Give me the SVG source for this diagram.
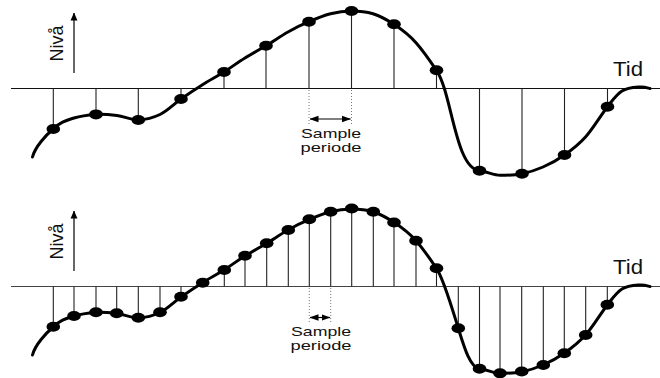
<svg xmlns="http://www.w3.org/2000/svg" width="660" height="378" viewBox="0 0 660 378">
<style>
.axis{stroke:#111;stroke-width:1.1;fill:none}
.stem{stroke:#222;stroke-width:1.1}
.curve{stroke:#000;stroke-width:3;fill:none;stroke-linecap:round}
.dot{fill:#000}
.dotted{stroke:#777;stroke-width:1;stroke-dasharray:1 2;fill:none}
.arr{stroke:#000;stroke-width:1.2;fill:none}
text{font-family:"Liberation Sans",Arial,Helvetica,sans-serif;fill:#111}
.lbl{font-size:13.5px}
.tid{font-size:19.5px}
.niva{font-size:18px}
</style>
<defs>
<marker id="ah" markerUnits="userSpaceOnUse" markerWidth="9" markerHeight="8" viewBox="0 0 9 8" refX="8.5" refY="4" orient="auto-start-reverse"><path d="M0,0.8 L9,4 L0,7.2 Z" fill="#000"/></marker>
<marker id="up" markerUnits="userSpaceOnUse" markerWidth="8" markerHeight="8" viewBox="0 0 8 8" refX="7.5" refY="4" orient="auto"><path d="M0,0.5 L8,4 L0,7.5 Z" fill="#000"/></marker>
</defs>

<g id="top-panel">
  <g id="top-axes">
    <line class="axis" x1="11" y1="88.5" x2="660" y2="88.5"/>
    <line class="arr" x1="74" y1="73" x2="74" y2="13" marker-end="url(#up)"/>
    <text class="niva" transform="translate(63,61.5) rotate(-90)">Nivå</text>
    <text class="tid" x="613" y="75.5" textLength="30" lengthAdjust="spacingAndGlyphs">Tid</text>
  </g>
  <g id="top-stems">
    <line class="stem" x1="53.3" y1="88.5" x2="53.3" y2="129"/>
    <line class="stem" x1="96" y1="88.5" x2="96" y2="114.4"/>
    <line class="stem" x1="138.3" y1="88.5" x2="138.3" y2="120"/>
    <line class="stem" x1="181" y1="88.5" x2="181" y2="99"/>
    <line class="stem" x1="224" y1="88.5" x2="224" y2="72"/>
    <line class="stem" x1="266" y1="88.5" x2="266" y2="45.7"/>
    <line class="stem" x1="309" y1="88.5" x2="309" y2="21.7"/>
    <line class="stem" x1="351.5" y1="88.5" x2="351.5" y2="11"/>
    <line class="stem" x1="394" y1="88.5" x2="394" y2="24.3"/>
    <line class="stem" x1="436.5" y1="88.5" x2="436.5" y2="70.3"/>
    <line class="stem" x1="479.5" y1="88.5" x2="479.5" y2="170.7"/>
    <line class="stem" x1="522" y1="88.5" x2="522" y2="173.7"/>
    <line class="stem" x1="564.5" y1="88.5" x2="564.5" y2="155"/>
    <line class="stem" x1="607.5" y1="88.5" x2="607.5" y2="106.7"/>
  </g>
  <path id="top-curve" class="curve" d="M32.5,157 C35,147 46,135 53.3,129 C60,122 66.8,120.3 74,118 C81.2,115.7 88.8,114.9 96,114.4 C103.2,114.1 110,114.7 117,115.6 C124,116.4 130.8,119.8 138.3,120 C145.2,119.6 152.8,117.9 160,114.5 C167.2,111.1 173.9,104 181,99 C188.1,94 195.3,89.2 202.5,84.7 C209.7,80.2 216.9,76.5 224,72 C231.1,67.5 237.9,62.3 245,58 C252,53.7 259,49.8 266,45.7 C273,41.5 280.9,36 288,32 C295.1,28 301.9,24.6 309,21.7 C316.1,18.5 323.4,15.5 330.5,13.7 C337.6,11.9 344.4,11 351.5,11 C358.6,11 365.9,11.6 373,13.7 C380.1,16 386.8,19.6 394,24.3 C401.2,29.1 409,34.8 416,42.7 C423,50.5 429.5,60 436.5,70.3 C452,93 455,168 479.5,170.7 C486.8,171.5 494,175.3 500,175.3 C507,175.3 514.8,175.1 522,173.7 C529.2,172.3 535.9,170.1 543,167 C550.1,163.9 557.4,160 564.5,155 C571.6,150 578.3,145.05 585.5,137 C592.7,128.95 601.4,114.4 607.5,106.7 C613.6,99 616.6,94.3 622,91 C627.4,87.7 635.3,87.4 640,87 C644.7,86.6 648.3,88.2 650,88.5"/>
  <g id="top-samples" class="dot">
    <ellipse cx="53.3" cy="129" rx="6.8" ry="5"/>
    <ellipse cx="96" cy="114.4" rx="6.8" ry="5"/>
    <ellipse cx="138.3" cy="120" rx="6.8" ry="5"/>
    <ellipse cx="181" cy="99" rx="6.8" ry="5"/>
    <ellipse cx="224" cy="72" rx="6.8" ry="5"/>
    <ellipse cx="266" cy="45.7" rx="6.8" ry="5"/>
    <ellipse cx="309" cy="21.7" rx="6.8" ry="5"/>
    <ellipse cx="351.5" cy="11" rx="6.8" ry="5"/>
    <ellipse cx="394" cy="24.3" rx="6.8" ry="5"/>
    <ellipse cx="436.5" cy="70.3" rx="6.8" ry="5"/>
    <ellipse cx="479.5" cy="170.7" rx="6.8" ry="5"/>
    <ellipse cx="522" cy="173.7" rx="6.8" ry="5"/>
    <ellipse cx="564.5" cy="155" rx="6.8" ry="5"/>
    <ellipse cx="607.5" cy="106.7" rx="6.8" ry="5"/>
  </g>
  <g id="top-period">
    <line class="dotted" x1="309" y1="90" x2="309" y2="124"/>
    <line class="dotted" x1="351.5" y1="90" x2="351.5" y2="124"/>
    <line class="arr" x1="310" y1="119" x2="350.5" y2="119" marker-start="url(#ah)" marker-end="url(#ah)"/>
    <text class="lbl" x="301" y="137.5" textLength="60" lengthAdjust="spacingAndGlyphs">Sample</text>
    <text class="lbl" x="300.5" y="151.5" textLength="61" lengthAdjust="spacingAndGlyphs">periode</text>
  </g>
</g>

<g id="bottom-panel">
  <g id="bottom-axes">
    <line class="axis" x1="11" y1="286.5" x2="660" y2="286.5" style="stroke:#444"/>
    <line class="arr" x1="74" y1="271" x2="74" y2="211" marker-end="url(#up)"/>
    <text class="niva" transform="translate(63,259.5) rotate(-90)">Nivå</text>
    <text class="tid" x="613" y="273.5" textLength="30" lengthAdjust="spacingAndGlyphs">Tid</text>
  </g>
  <g id="bottom-stems">
    <line class="stem" x1="53.3" y1="286.5" x2="53.3" y2="326.7"/>
    <line class="stem" x1="74" y1="286.5" x2="74" y2="316"/>
    <line class="stem" x1="96" y1="286.5" x2="96" y2="312.3"/>
    <line class="stem" x1="116.7" y1="286.5" x2="116.7" y2="313.3"/>
    <line class="stem" x1="138.3" y1="286.5" x2="138.3" y2="317.7"/>
    <line class="stem" x1="160" y1="286.5" x2="160" y2="312.3"/>
    <line class="stem" x1="181" y1="286.5" x2="181" y2="296.7"/>
    <line class="stem" x1="202.7" y1="286.5" x2="202.7" y2="282.7"/>
    <line class="stem" x1="224.3" y1="286.5" x2="224.3" y2="270"/>
    <line class="stem" x1="245" y1="286.5" x2="245" y2="255.7"/>
    <line class="stem" x1="266.7" y1="286.5" x2="266.7" y2="243.3"/>
    <line class="stem" x1="288.3" y1="286.5" x2="288.3" y2="230"/>
    <line class="stem" x1="309.3" y1="286.5" x2="309.3" y2="219.3"/>
    <line class="stem" x1="330.7" y1="286.5" x2="330.7" y2="211.7"/>
    <line class="stem" x1="351.7" y1="286.5" x2="351.7" y2="208.5"/>
    <line class="stem" x1="373.3" y1="286.5" x2="373.3" y2="211.7"/>
    <line class="stem" x1="394" y1="286.5" x2="394" y2="222.5"/>
    <line class="stem" x1="416" y1="286.5" x2="416" y2="240.7"/>
    <line class="stem" x1="436.5" y1="286.5" x2="436.5" y2="268.3"/>
    <line class="stem" x1="458.3" y1="286.5" x2="458.3" y2="328.3"/>
    <line class="stem" x1="479.5" y1="286.5" x2="479.5" y2="368.7"/>
    <line class="stem" x1="500" y1="286.5" x2="500" y2="373.3"/>
    <line class="stem" x1="521.7" y1="286.5" x2="521.7" y2="371.5"/>
    <line class="stem" x1="543.3" y1="286.5" x2="543.3" y2="365"/>
    <line class="stem" x1="564.3" y1="286.5" x2="564.3" y2="353.2"/>
    <line class="stem" x1="585.7" y1="286.5" x2="585.7" y2="335"/>
    <line class="stem" x1="607.3" y1="286.5" x2="607.3" y2="304.8"/>
  </g>
  <path id="bottom-curve" class="curve" transform="translate(0,198)" d="M32.5,157 C35,147 46,135 53.3,129 C60,122 66.8,120.3 74,118 C81.2,115.7 88.8,114.9 96,114.4 C103.2,114.1 110,114.7 117,115.6 C124,116.4 130.8,119.8 138.3,120 C145.2,119.6 152.8,117.9 160,114.5 C167.2,111.1 173.9,104 181,99 C188.1,94 195.3,89.2 202.5,84.7 C209.7,80.2 216.9,76.5 224,72 C231.1,67.5 237.9,62.3 245,58 C252,53.7 259,49.8 266,45.7 C273,41.5 280.9,36 288,32 C295.1,28 301.9,24.6 309,21.7 C316.1,18.5 323.4,15.5 330.5,13.7 C337.6,11.9 344.4,11 351.5,11 C358.6,11 365.9,11.6 373,13.7 C380.1,16 386.8,19.6 394,24.3 C401.2,29.1 409,34.8 416,42.7 C423,50.5 429.5,60 436.5,70.3 C443.5,80.6 452,110 458.3,130.3 C464,148.6 470,169.6 479.5,170.7 C486.8,171.5 494,175.3 500,175.3 C507,175.3 514.8,175.1 522,173.7 C529.2,172.3 535.9,170.1 543,167 C550.1,163.9 557.4,160 564.5,155 C571.6,150 578.3,145.05 585.5,137 C592.7,128.95 601.4,114.4 607.5,106.7 C613.6,99 616.6,94.3 622,91 C627.4,87.7 635.3,87.4 640,87 C644.7,86.6 648.3,88.2 650,88.5"/>
  <g id="bottom-samples" class="dot">
    <ellipse cx="53.3" cy="326.7" rx="6.8" ry="5"/>
    <ellipse cx="74" cy="316" rx="6.8" ry="5"/>
    <ellipse cx="96" cy="312.3" rx="6.8" ry="5"/>
    <ellipse cx="116.7" cy="313.3" rx="6.8" ry="5"/>
    <ellipse cx="138.3" cy="317.7" rx="6.8" ry="5"/>
    <ellipse cx="160" cy="312.3" rx="6.8" ry="5"/>
    <ellipse cx="181" cy="296.7" rx="6.8" ry="5"/>
    <ellipse cx="202.7" cy="282.7" rx="6.8" ry="5"/>
    <ellipse cx="224.3" cy="270" rx="6.8" ry="5"/>
    <ellipse cx="245" cy="255.7" rx="6.8" ry="5"/>
    <ellipse cx="266.7" cy="243.3" rx="6.8" ry="5"/>
    <ellipse cx="288.3" cy="230" rx="6.8" ry="5"/>
    <ellipse cx="309.3" cy="219.3" rx="6.8" ry="5"/>
    <ellipse cx="330.7" cy="211.7" rx="6.8" ry="5"/>
    <ellipse cx="351.7" cy="208.5" rx="6.8" ry="5"/>
    <ellipse cx="373.3" cy="211.7" rx="6.8" ry="5"/>
    <ellipse cx="394" cy="222.5" rx="6.8" ry="5"/>
    <ellipse cx="416" cy="240.7" rx="6.8" ry="5"/>
    <ellipse cx="436.5" cy="268.3" rx="6.8" ry="5"/>
    <ellipse cx="458.3" cy="328.3" rx="6.8" ry="5"/>
    <ellipse cx="479.5" cy="368.7" rx="6.8" ry="5"/>
    <ellipse cx="500" cy="373.3" rx="6.8" ry="5"/>
    <ellipse cx="521.7" cy="371.5" rx="6.8" ry="5"/>
    <ellipse cx="543.3" cy="365" rx="6.8" ry="5"/>
    <ellipse cx="564.3" cy="353.2" rx="6.8" ry="5"/>
    <ellipse cx="585.7" cy="335" rx="6.8" ry="5"/>
    <ellipse cx="607.3" cy="304.8" rx="6.8" ry="5"/>
  </g>
  <g id="bottom-period">
    <line class="dotted" x1="309.3" y1="288" x2="309.3" y2="322"/>
    <line class="dotted" x1="330.7" y1="288" x2="330.7" y2="322"/>
    <line class="arr" x1="310" y1="317.5" x2="330" y2="317.5" marker-start="url(#ah)" marker-end="url(#ah)"/>
    <text class="lbl" x="291" y="335.5" textLength="60" lengthAdjust="spacingAndGlyphs">Sample</text>
    <text class="lbl" x="290.5" y="349.5" textLength="61" lengthAdjust="spacingAndGlyphs">periode</text>
  </g>
</g>
</svg>
